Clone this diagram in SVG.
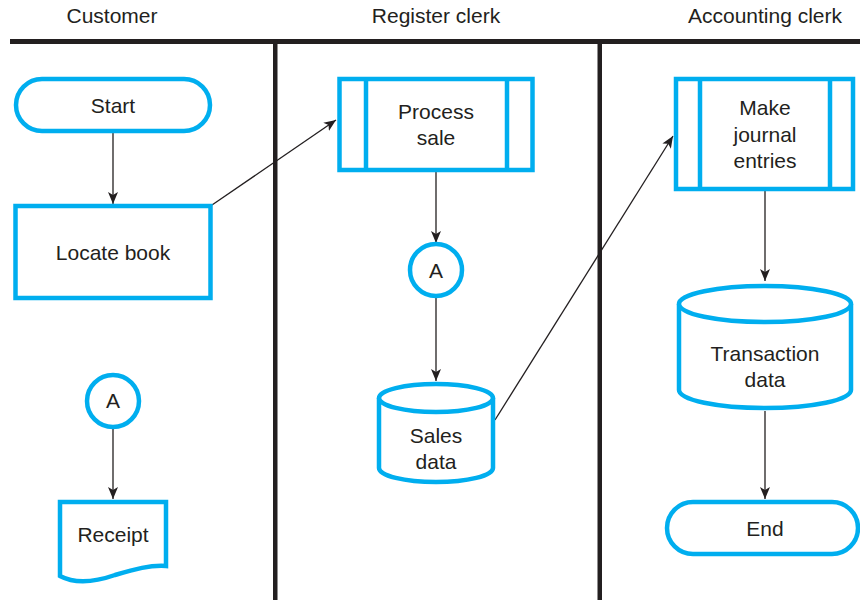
<svg xmlns="http://www.w3.org/2000/svg" width="860" height="602" viewBox="0 0 860 602">
<style>
.s{fill:#fff;stroke:#00aeef;stroke-width:4.5}
.t{font-family:"Liberation Sans",Arial,sans-serif;font-size:21px;fill:#231f20;text-anchor:middle}
.c{fill:none;stroke:#231f20;stroke-width:1.3}
.lane{fill:#231f20}
</style>
<defs>
<marker id="ah" viewBox="0 0 12 10" refX="12" refY="5" markerWidth="12" markerHeight="10" markerUnits="userSpaceOnUse" orient="auto">
<path d="M0,0 L12,5 L0,10 L3,5 Z" fill="#231f20"/>
</marker>
</defs>
<rect width="860" height="602" fill="#fff"/>
<g id="lanes">
<rect class="lane" x="10" y="39" width="850" height="5"/>
<rect class="lane" x="273" y="40" width="4.5" height="560"/>
<rect class="lane" x="597.5" y="40" width="4.5" height="560"/>
<text class="t" x="112" y="23">Customer</text>
<text class="t" x="436" y="23">Register clerk</text>
<text class="t" x="765" y="23">Accounting clerk</text>
</g>
<g id="connectors">
<line class="c" x1="113" y1="132" x2="113" y2="204" marker-end="url(#ah)"/>
<line class="c" x1="212" y1="205" x2="336" y2="120" marker-end="url(#ah)"/>
<line class="c" x1="436" y1="172" x2="436" y2="243" marker-end="url(#ah)"/>
<line class="c" x1="436" y1="297" x2="436" y2="381" marker-end="url(#ah)"/>
<line class="c" x1="495" y1="420" x2="673" y2="136" marker-end="url(#ah)"/>
<line class="c" x1="765" y1="191" x2="765" y2="281" marker-end="url(#ah)"/>
<line class="c" x1="765" y1="411" x2="765" y2="499" marker-end="url(#ah)"/>
<line class="c" x1="113" y1="428" x2="113" y2="499" marker-end="url(#ah)"/>
</g>
<g id="start">
<rect class="s" x="16" y="79" width="194" height="52" rx="26"/>
<text class="t" x="113" y="113">Start</text>
</g>
<g id="locate">
<rect class="s" x="15.5" y="206" width="195" height="92"/>
<text class="t" x="113" y="260">Locate book</text>
</g>
<g id="connA1">
<circle class="s" cx="113" cy="401" r="26"/>
<text class="t" x="113" y="408">A</text>
</g>
<g id="receipt">
<path class="s" d="M60,502 H166 V566 C150,565 135,569 115,575 C95,582 75,584 60,576 Z"/>
<text class="t" x="113" y="542">Receipt</text>
</g>
<g id="process">
<rect class="s" x="339.5" y="79" width="193" height="91"/>
<line class="s" x1="366" y1="79" x2="366" y2="170"/>
<line class="s" x1="507" y1="79" x2="507" y2="170"/>
<text class="t" x="436" y="119">Process</text>
<text class="t" x="436" y="145">sale</text>
</g>
<g id="connA2">
<circle class="s" cx="436" cy="270" r="26"/>
<text class="t" x="436" y="278">A</text>
</g>
<g id="sales">
<path class="s" d="M379,398 V468 A57,14 0 0 0 493,468 V398"/>
<ellipse class="s" cx="436" cy="398" rx="57" ry="14"/>
<text class="t" x="436" y="443">Sales</text>
<text class="t" x="436" y="469">data</text>
</g>
<g id="journal">
<rect class="s" x="676" y="79" width="177" height="110"/>
<line class="s" x1="700" y1="79" x2="700" y2="189"/>
<line class="s" x1="830" y1="79" x2="830" y2="189"/>
<text class="t" x="765" y="115">Make</text>
<text class="t" x="765" y="142">journal</text>
<text class="t" x="765" y="168">entries</text>
</g>
<g id="transaction">
<path class="s" d="M679,304 V390 A86,18 0 0 0 851,390 V304"/>
<ellipse class="s" cx="765" cy="304" rx="86" ry="18"/>
<text class="t" x="765" y="361">Transaction</text>
<text class="t" x="765" y="387">data</text>
</g>
<g id="end">
<rect class="s" x="667" y="502" width="191" height="52" rx="26"/>
<text class="t" x="765" y="536">End</text>
</g>
</svg>
